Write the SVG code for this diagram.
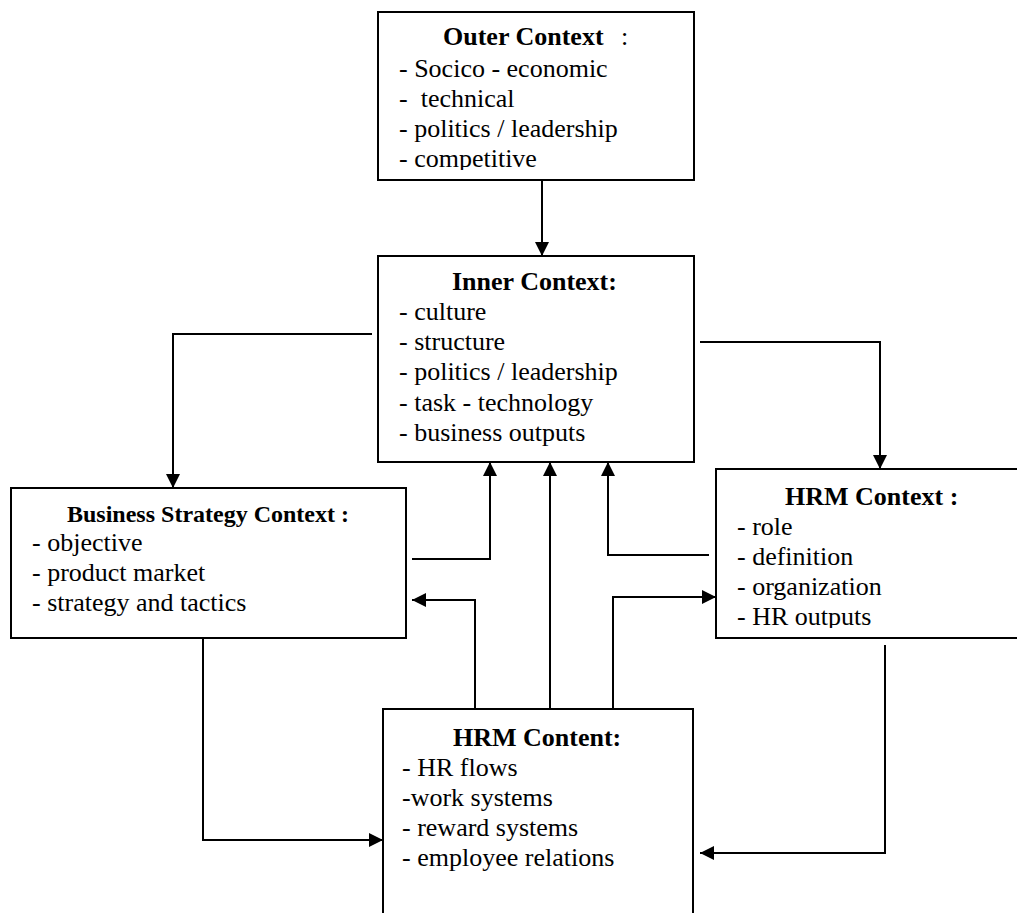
<svg xmlns="http://www.w3.org/2000/svg" width="1017" height="913" viewBox="0 0 1017 913">
<style>
.box{fill:#fff;stroke:#000;stroke-width:2}
.t{font-family:"Liberation Serif","Times New Roman",serif;font-size:26px;fill:#000;white-space:pre}
.b{font-weight:bold}
.c{fill:none;stroke:#000;stroke-width:2}
</style>
<defs>
<marker id="ah" viewBox="0 0 14 14" refX="14" refY="7" markerWidth="14" markerHeight="14" markerUnits="userSpaceOnUse" orient="auto">
<path d="M0,0 L14,7 L0,14 z" fill="#000"/>
</marker>
<clipPath id="cpOuter"><rect x="378" y="12" width="316" height="158"/></clipPath>
<clipPath id="cpHrmCtx"><rect x="716" y="469" width="320" height="159"/></clipPath>
</defs>
<rect width="1017" height="913" fill="#fff"/>

<g id="connectors">
<path class="c" d="M542,181 L542,256" marker-end="url(#ah)"/>
<path class="c" d="M372,334 L173,334 L173,488" marker-end="url(#ah)"/>
<path class="c" d="M700,342 L880,342 L880,469" marker-end="url(#ah)"/>
<path class="c" d="M412,559 L490,559 L490,462" marker-end="url(#ah)"/>
<path class="c" d="M475,708 L475,600 L412,600" marker-end="url(#ah)"/>
<path class="c" d="M550,708 L550,462" marker-end="url(#ah)"/>
<path class="c" d="M613,708 L613,597 L716,597" marker-end="url(#ah)"/>
<path class="c" d="M709,555 L608,555 L608,462" marker-end="url(#ah)"/>
<path class="c" d="M203,638 L203,840 L383,840" marker-end="url(#ah)"/>
<path class="c" d="M885,645 L885,853 L700,853" marker-end="url(#ah)"/>
</g>

<g id="outer-context">
<rect class="box" x="378" y="12" width="316" height="168"/>
<g clip-path="url(#cpOuter)">
<text class="t b" x="443" y="45">Outer Context</text>
<text class="t" x="621" y="45">:</text>
<text class="t" x="399" y="77">- Socico - economic</text>
<text class="t" x="399" y="107">-  technical</text>
<text class="t" x="399" y="137">- politics / leadership</text>
<text class="t" x="399" y="167">- competitive</text>
</g>
</g>

<g id="inner-context">
<rect class="box" x="378" y="256" width="316" height="206"/>
<text class="t b" x="452" y="290">Inner Context:</text>
<text class="t" x="399" y="320">- culture</text>
<text class="t" x="399" y="350">- structure</text>
<text class="t" x="399" y="380">- politics / leadership</text>
<text class="t" x="399" y="411">- task - technology</text>
<text class="t" x="399" y="441">- business outputs</text>
</g>

<g id="business-strategy-context">
<rect class="box" x="11" y="488" width="395" height="150"/>
<text class="t b" x="208" y="522" text-anchor="middle" style="font-size:24px">Business Strategy Context :</text>
<text class="t" x="32" y="551">- objective</text>
<text class="t" x="32" y="581">- product market</text>
<text class="t" x="32" y="611">- strategy and tactics</text>
</g>

<g id="hrm-context">
<rect class="box" x="716" y="469" width="320" height="169"/>
<g clip-path="url(#cpHrmCtx)">
<text class="t b" x="785" y="505">HRM Context :</text>
<text class="t" x="737" y="535">- role</text>
<text class="t" x="737" y="565">- definition</text>
<text class="t" x="737" y="595">- organization</text>
<text class="t" x="737" y="625">- HR outputs</text>
</g>
</g>

<g id="hrm-content">
<rect class="box" x="383" y="709" width="310" height="230"/>
<text class="t b" x="453" y="746">HRM Content:</text>
<text class="t" x="402" y="776">- HR flows</text>
<text class="t" x="402" y="806">-work systems</text>
<text class="t" x="402" y="836">- reward systems</text>
<text class="t" x="402" y="866">- employee relations</text>
</g>
</svg>
